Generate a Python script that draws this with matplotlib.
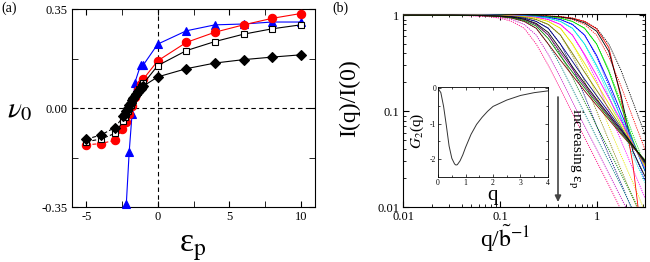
import numpy as np
import matplotlib

matplotlib.use("Agg")
import matplotlib.pyplot as plt  # noqa: E402
from matplotlib.ticker import FixedLocator, FixedFormatter, LogLocator, NullFormatter  # noqa: E402

plt.rcParams.update({
    "font.family": ["Liberation Serif", "DejaVu Serif"],
    "mathtext.fontset": "stix",
    "font.size": 9,
})

# ---- panel (a): nu_0 vs eps_p -------------------------------------------
eps_diamond = [-5, -4, -3, -2.4, -2.3, -2.2, -2.1, -2.0, -1.9, -1.8, -1.7, -1.6,
               -1.5, -1.4, -1.3, -1.2, -1.1, -1.0, 0, 2, 4, 6, 8, 10]
nu_diamond = [-0.110, -0.096, -0.069, -0.030, -0.020, -0.010, 0.000, 0.010,
              0.019, 0.028, 0.036, 0.044, 0.051, 0.057, 0.063, 0.068, 0.073,
              0.078, 0.110, 0.139, 0.159, 0.171, 0.180, 0.188]
nu_square = [-0.119, -0.110, -0.090, -0.045, -0.033, -0.021, -0.010, 0.001,
             0.012, 0.022, 0.032, 0.041, 0.050, 0.058, 0.066, 0.073, 0.080,
             0.087, 0.150, 0.203, 0.235, 0.261, 0.280, 0.294]
eps_circle = [-5, -4, -3, -2.5, -2.2, -2.0, -1.8, -1.6, -1.4, -1.2, -1.0,
              0, 2, 4, 6, 8, 10]
nu_circle = [-0.130, -0.126, -0.114, -0.075, -0.048, -0.022, 0.008, 0.038,
             0.063, 0.085, 0.103, 0.167, 0.232, 0.268, 0.294, 0.317, 0.334]
eps_triangle = [-2.2, -2.0, -1.8, -1.6, -1.2, -1.0, 0, 2, 4, 6, 8, 10]
nu_triangle = [-0.338, -0.155, -0.022, 0.090, 0.152, 0.153, 0.226, 0.273,
               0.294, 0.297, 0.304, 0.304]

# ---- panel (b): I(q)/I(0) families --------------------------------------
Q = [0.01, 0.0316, 0.0562, 0.075, 0.1, 0.133, 0.178, 0.237, 0.316, 0.422,
     0.562, 0.75, 1.0, 1.334, 1.778, 2.371, 3.162]

dash_black = [1, 1, 1, 1, 1, 1, 0.996, 0.99, 0.98, 0.965, 0.93, 0.86, 0.73, 0.50, 0.27, 0.125, 0.057]
dash_red = [1, 1, 1, 1, 1, 0.998, 0.993, 0.985, 0.973, 0.95, 0.90, 0.80, 0.62, 0.37, 0.185, 0.085, 0.04]
dash_green = [1, 1, 1, 1, 1, 0.996, 0.99, 0.98, 0.965, 0.93, 0.86, 0.73, 0.50, 0.27, 0.125, 0.057, 0.027]
dash_blue = [1, 1, 1, 1, 0.998, 0.993, 0.985, 0.973, 0.95, 0.90, 0.80, 0.62, 0.37, 0.185, 0.085, 0.04, 0.019]
dash_cyan = [1, 1, 1, 1, 0.996, 0.99, 0.98, 0.965, 0.93, 0.86, 0.73, 0.50, 0.285, 0.145, 0.07, 0.035, 0.018]
dash_magenta = [1, 1, 1, 0.998, 0.993, 0.985, 0.973, 0.95, 0.90, 0.80, 0.62, 0.38, 0.205, 0.10, 0.05, 0.025, 0.0125]
dash_yellow = [1, 1, 1, 0.996, 0.99, 0.98, 0.965, 0.93, 0.86, 0.73, 0.50, 0.285, 0.145, 0.07, 0.035, 0.018, 0.009]
dash_dkyellow = [1, 1, 0.998, 0.993, 0.985, 0.973, 0.95, 0.90, 0.80, 0.62, 0.38, 0.205, 0.10, 0.05, 0.025, 0.0125, 0.0063]
dash_navy = [1, 1, 0.996, 0.99, 0.98, 0.965, 0.93, 0.86, 0.73, 0.50, 0.285, 0.145, 0.07, 0.035, 0.018, 0.009, 0.0045]
dash_olive = [1, 1, 0.993, 0.985, 0.973, 0.95, 0.90, 0.80, 0.62, 0.39, 0.225, 0.125, 0.07, 0.04, 0.0225, 0.0127, 0.0071]
dash_dkcyan = [1, 1, 0.99, 0.98, 0.965, 0.93, 0.86, 0.73, 0.50, 0.30, 0.17, 0.095, 0.053, 0.030, 0.017, 0.0095, 0.0053]
dash_violet = [1, 0.998, 0.985, 0.973, 0.95, 0.90, 0.80, 0.62, 0.39, 0.225, 0.125, 0.07, 0.04, 0.0225, 0.0127, 0.0071, 0.004]
dash_pink = [1, 0.996, 0.98, 0.965, 0.93, 0.86, 0.73, 0.50, 0.30, 0.17, 0.095, 0.053, 0.030, 0.017, 0.0095, 0.0053, 0.003]

solid_red = [1, 1, 1, 1, 1, 1, 0.996, 0.99, 0.98, 0.965, 0.93, 0.86, 0.72, 0.46, 0.14, 0.028, 0.0025]
solid_black = [1, 1, 1, 1, 1, 1, 0.995, 0.988, 0.975, 0.955, 0.915, 0.83, 0.68, 0.42, 0.15, 0.038, 0.021]
solid_green = [1, 1, 1, 1, 1, 0.996, 0.99, 0.98, 0.965, 0.93, 0.86, 0.73, 0.50, 0.26, 0.115, 0.05, 0.024]
solid_blue = [1, 1, 1, 1, 0.998, 0.993, 0.985, 0.973, 0.95, 0.90, 0.80, 0.62, 0.38, 0.20, 0.098, 0.048, 0.024]
solid_cyan = [1, 1, 1, 1, 0.996, 0.99, 0.98, 0.965, 0.93, 0.86, 0.73, 0.50, 0.30, 0.165, 0.088, 0.047, 0.025]
solid_magenta = [1, 1, 1, 0.998, 0.993, 0.985, 0.973, 0.95, 0.90, 0.80, 0.62, 0.39, 0.235, 0.138, 0.08, 0.046, 0.026]
solid_yellow = [1, 1, 1, 0.996, 0.99, 0.98, 0.965, 0.93, 0.86, 0.73, 0.50, 0.315, 0.195, 0.12, 0.074, 0.045, 0.027]
solid_dkyellow = [1, 1, 0.998, 0.993, 0.985, 0.973, 0.95, 0.90, 0.80, 0.62, 0.40, 0.255, 0.165, 0.107, 0.069, 0.044, 0.028]
solid_navy = [1, 1, 0.996, 0.99, 0.98, 0.965, 0.93, 0.86, 0.73, 0.50, 0.33, 0.215, 0.145, 0.098, 0.066, 0.044, 0.029]
solid_purple = [1, 0.999, 0.993, 0.985, 0.973, 0.95, 0.90, 0.80, 0.62, 0.41, 0.275, 0.185, 0.128, 0.089, 0.062, 0.043, 0.03]
solid_wine = [1, 0.998, 0.99, 0.98, 0.965, 0.93, 0.86, 0.73, 0.50, 0.34, 0.235, 0.163, 0.115, 0.082, 0.058, 0.042, 0.031]
solid_olive = [1, 0.999, 0.992, 0.983, 0.97, 0.94, 0.88, 0.77, 0.57, 0.375, 0.255, 0.175, 0.122, 0.086, 0.060, 0.043, 0.031]
solid_black2 = [1, 0.999, 0.994, 0.987, 0.976, 0.955, 0.91, 0.82, 0.66, 0.44, 0.29, 0.195, 0.133, 0.092, 0.064, 0.044, 0.030]

dashed = [(dash_black, "#000000"), (dash_red, "#FF0000"), (dash_green, "#00DD00"),
          (dash_blue, "#0000FF"), (dash_cyan, "#00E5E5"), (dash_magenta, "#FF00FF"),
          (dash_yellow, "#E8E800"), (dash_dkyellow, "#808000"), (dash_navy, "#000080"),
          (dash_olive, "#008000"), (dash_dkcyan, "#008080"), (dash_violet, "#C000C0"),
          (dash_pink, "#FF0080")]
solid = [(solid_red, "#FF0000"), (solid_black, "#000000"), (solid_green, "#00DD00"),
         (solid_blue, "#0000FF"), (solid_cyan, "#00E5E5"), (solid_magenta, "#FF00FF"),
         (solid_yellow, "#E8E800"), (solid_dkyellow, "#808000"), (solid_navy, "#000080"),
         (solid_purple, "#800080"), (solid_wine, "#800000"), (solid_olive, "#008000"),
         (solid_black2, "#000000")]

# inset G_2(q)
q_inset = [0, 0.1, 0.2, 0.3, 0.4, 0.5, 0.6, 0.65, 0.7, 0.8, 0.9, 1.0, 1.2, 1.4,
           1.6, 1.8, 2.0, 2.5, 3.0, 3.5, 4.0]
G2_inset = [0, -0.12, -0.51, -1.05, -1.63, -1.98, -2.14, -2.17, -2.16, -2.05,
            -1.88, -1.67, -1.30, -1.02, -0.82, -0.65, -0.51, -0.33, -0.20,
            -0.12, -0.07]

fig = plt.figure(figsize=(6.5, 2.62), dpi=100)
ax = fig.add_axes([0.1108, 0.2099, 0.3738, 0.7557])
axb = fig.add_axes([0.6205, 0.2088, 0.3718, 0.7366])
axi = fig.add_axes([0.674, 0.3256, 0.169, 0.341])


def draw_series(x, y, split, color, marker, mfc, ms, z):
    x = np.asarray(x, dtype=float)
    y = np.asarray(y, dtype=float)
    left = x <= split
    right = x >= split
    if left.sum() > 1:
        ax.plot(x[left], y[left], ls=(0, (3.5, 2)), color=color, lw=0.8, zorder=z)
    ax.plot(x[right], y[right], ls="-", color=color, lw=0.8, zorder=z)
    ax.plot(x, y, ls="none", marker=marker, mfc=mfc, mec=color, mew=0.8,
            ms=ms, zorder=z, clip_on=False)


ax.axhline(0, color="k", ls=(0, (4, 3)), lw=0.8, zorder=1)
ax.axvline(0, color="k", ls=(0, (4, 3)), lw=0.8, zorder=1)
draw_series(eps_triangle, nu_triangle, -99, "#0000FF", "^", "#0000FF", 6, 3)
draw_series(eps_circle, nu_circle, -2.5, "#FF0000", "o", "#FF0000", 6, 4)
draw_series(eps_diamond, nu_square, -2.4, "k", "s", "white", 4.5, 5)
draw_series(eps_diamond, nu_diamond, -2.4, "k", "D", "k", 5, 6)

ax.set_xlim(-6, 11)
ax.set_ylim(-0.35, 0.35)
ax.xaxis.set_major_locator(FixedLocator([-5, 0, 5, 10]))
ax.xaxis.set_major_formatter(FixedFormatter(["-5", "0", "5", "10"]))
ax.xaxis.set_minor_locator(FixedLocator([-2.5, 2.5, 7.5]))
ax.yaxis.set_major_locator(FixedLocator([-0.35, 0, 0.35]))
ax.yaxis.set_major_formatter(FixedFormatter(["-0.35", "0.00", "0.35"]))
ax.yaxis.set_minor_locator(FixedLocator([-0.175, 0.175]))
ax.tick_params(which="both", direction="in", top=True, right=True,
               labelsize=9, pad=3)
ax.tick_params(which="major", length=4)
ax.tick_params(which="minor", length=4)

# panel (b)
for ys, col in dashed:
    axb.plot(Q, ys, color=col, lw=0.6, ls=(0, (1.5, 1.2)), zorder=2)
for ys, col in solid:
    axb.plot(Q, ys, color=col, lw=0.6, ls="-", zorder=3)
axb.set_xscale("log")
axb.set_yscale("log")
axb.set_xlim(0.01, 3.162)
axb.set_ylim(0.01, 1.02)
axb.xaxis.set_major_locator(FixedLocator([0.01, 0.1, 1]))
axb.xaxis.set_major_formatter(FixedFormatter(["0.01", "0.1", "1"]))
axb.xaxis.set_minor_locator(LogLocator(subs=np.arange(2, 10)))
axb.xaxis.set_minor_formatter(NullFormatter())
axb.yaxis.set_major_locator(FixedLocator([0.01, 0.1, 1]))
axb.yaxis.set_major_formatter(FixedFormatter(["0.01", "0.1", "1"]))
axb.yaxis.set_minor_locator(LogLocator(subs=np.arange(2, 10)))
axb.yaxis.set_minor_formatter(NullFormatter())
axb.tick_params(which="both", direction="in", top=True, right=True,
                labelsize=9, pad=3)
axb.tick_params(which="major", length=4)
axb.tick_params(which="minor", length=2)

# inset
axi.plot(q_inset, G2_inset, color="#333333", lw=0.7)
axi.set_xlim(0, 4)
axi.set_ylim(-2.5, 0.03)
axi.set_xticks([0, 1, 2, 3, 4])
axi.set_xticks([0.5, 1.5, 2.5, 3.5], minor=True)
axi.set_yticks([-2, -1, 0])
axi.yaxis.set_major_formatter(FixedFormatter(["-2", "-1", "0"]))
axi.set_yticks([-1.5, -0.5], minor=True)
axi.tick_params(which="both", direction="in", top=True, right=True,
                labelsize=5.5, pad=1.5, width=0.5)
axi.tick_params(which="major", length=2.5)
axi.tick_params(which="minor", length=1.5)
for sp in axi.spines.values():
    sp.set_linewidth(0.6)

# labels
fig.text(0.002, 0.995, "(a)", ha="left", va="top", fontsize=10)
fig.text(0.512, 0.995, "(b)", ha="left", va="top", fontsize=10)
fig.text(0.011, 0.553, r"$\nu_0$", ha="left", va="baseline", fontsize=21)
fig.text(0.297, 0.040, r"ε$_\mathrm{p}$", ha="center", va="baseline", fontsize=24)
fig.text(0.538, 0.626, "I(q)/I(0)", ha="center", va="center", rotation=90,
         fontsize=17)
fig.text(0.777, 0.057, r"q/$\tilde{\mathrm{b}}^{-1}$", ha="center",
         va="baseline", fontsize=17)
fig.text(0.642, 0.50, r"$G_2$(q)", ha="center", va="center", rotation=90,
         fontsize=11)
fig.text(0.758, 0.236, "q", ha="center", va="baseline", fontsize=15)
fig.text(0.885, 0.435, r"increasing ε$_\mathrm{p}$", ha="center", va="center",
         rotation=-90, fontsize=11)
axb.annotate("", xy=(558, 60), xytext=(558, 165), xycoords="figure pixels",
             textcoords="figure pixels",
             arrowprops=dict(arrowstyle="-|>", color="#444444", lw=1.2,
                             mutation_scale=9, shrinkA=0, shrinkB=0))

fig.savefig("out.png", dpi=100)
